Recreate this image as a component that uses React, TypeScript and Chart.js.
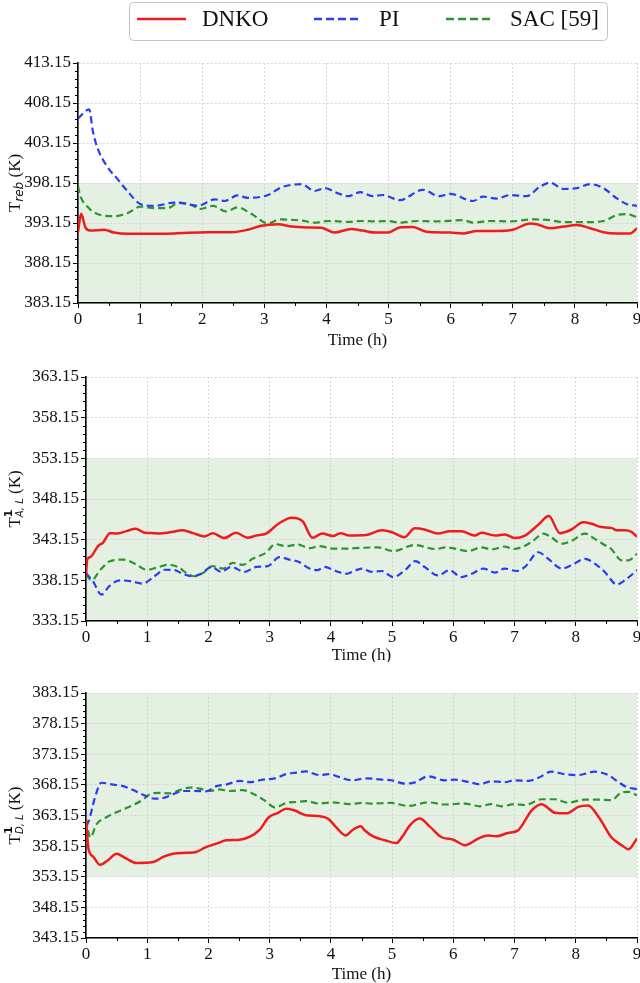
import React, { useEffect, useRef } from "react";
import { Chart, registerables } from "chart.js";

Chart.register(...registerables);

// ---------------- DATA ----------------
const SERIES_NAMES = ["DNKO", "PI", "SAC [59]"];
const SERIES_COLORS = ["#f01c1c", "#2a3df2", "#2c962c"];
const SERIES_DASHES = [[], [7, 4], [7, 4]];

const timeTicks = [0, 1, 2, 3, 4, 5, 6, 7, 8, 9];

// Panel 1: T_reb (K)
const rebTicks = [383.15, 388.15, 393.15, 398.15, 403.15, 408.15, 413.15];
const rebBand = [383.15, 398.15];
const rebDNKO: [number, number][] = [
  [0, 392.0], [0.05, 394.3], [0.12, 392.6], [0.2, 392.2], [0.42, 392.3], [0.58, 391.95], [0.8, 391.8],
  [1.12, 391.8], [1.55, 391.85], [2.09, 392.0], [2.47, 392.0], [2.73, 392.3], [2.95, 392.8], [3.22, 393.0],
  [3.44, 392.7], [3.7, 392.6], [3.92, 392.55], [4.13, 391.95], [4.4, 392.4], [4.58, 392.2], [4.8, 391.95],
  [4.99, 391.95], [5.18, 392.6], [5.39, 392.65], [5.61, 392.05], [5.99, 391.95], [6.2, 391.85], [6.42, 392.15],
  [6.74, 392.15], [7.0, 392.3], [7.28, 393.1], [7.39, 393.0], [7.6, 392.5], [7.82, 392.7], [8.03, 392.9],
  [8.25, 392.5], [8.46, 392.0], [8.68, 391.85], [8.89, 391.85], [9.0, 392.5],
];
const rebPI: [number, number][] = [
  [0, 406.2], [0.18, 407.35], [0.24, 404.6], [0.31, 402.6], [0.47, 400.2], [0.63, 398.7], [0.8, 397.1], [1.01, 395.5],
  [1.23, 395.3], [1.55, 395.7], [1.71, 395.6], [1.93, 395.3], [2.2, 396.1], [2.36, 395.9], [2.57, 396.6],
  [2.73, 396.3], [3.06, 396.65], [3.27, 397.6], [3.6, 398.0], [3.81, 397.15], [3.97, 397.5], [4.19, 396.85],
  [4.35, 396.5], [4.55, 397.0], [4.74, 396.5], [4.9, 396.65], [5.18, 396.0], [5.55, 397.3], [5.82, 396.5],
  [5.99, 396.8], [6.36, 395.9], [6.52, 396.45], [6.74, 396.2], [6.96, 396.65], [7.22, 396.5], [7.44, 397.7],
  [7.6, 398.2], [7.82, 397.4], [8.03, 397.5], [8.25, 398.0], [8.46, 397.5], [8.68, 396.2], [8.84, 395.5],
  [9.0, 395.3],
];
const rebSAC: [number, number][] = [
  [0, 397.8], [0.03, 396.7], [0.15, 395.2], [0.36, 394.15], [0.58, 394.0], [0.8, 394.4], [1.01, 395.2],
  [1.23, 395.0], [1.44, 395.0], [1.63, 395.7], [1.82, 395.4], [1.98, 394.9], [2.17, 395.3], [2.38, 394.6],
  [2.57, 395.1], [2.79, 394.3], [3.06, 393.1], [3.25, 393.6], [3.6, 393.45], [3.81, 393.2], [4.03, 393.4],
  [4.35, 393.3], [4.56, 393.4], [4.8, 393.35], [5.0, 393.4], [5.18, 393.2], [5.45, 393.4], [5.77, 393.35],
  [6.2, 393.5], [6.36, 393.2], [6.63, 393.4], [6.96, 393.35], [7.33, 393.6], [7.6, 393.5], [7.82, 393.25],
  [8.14, 393.25], [8.46, 393.4], [8.68, 394.15], [8.84, 394.25], [9.0, 393.85],
];

// Panel 2: T^1_{A,L} (K)
const aTicks = [333.15, 338.15, 343.15, 348.15, 353.15, 358.15, 363.15];
const aBand = [333.15, 353.15];
const aDNKO: [number, number][] = [
  [0, 338.8], [0.02, 340.7], [0.07, 341.0], [0.2, 342.4], [0.28, 342.8], [0.39, 343.95], [0.5, 343.9],
  [0.66, 344.2], [0.81, 344.5], [0.96, 344.0], [1.1, 343.95], [1.2, 343.9], [1.37, 344.05], [1.58, 344.3],
  [1.75, 343.95], [1.94, 343.55], [2.07, 343.95], [2.26, 343.35], [2.45, 344.0], [2.64, 343.4], [2.78, 343.65],
  [2.94, 343.9], [3.16, 345.2], [3.36, 345.85], [3.54, 345.4], [3.7, 343.4], [3.86, 343.9], [4.03, 343.6],
  [4.16, 343.95], [4.3, 343.65], [4.51, 343.7], [4.6, 343.75], [4.83, 344.3], [4.99, 344.1], [5.2, 343.45],
  [5.37, 344.55], [5.53, 344.4], [5.75, 343.9], [5.94, 344.2], [6.13, 344.2], [6.35, 343.65], [6.46, 344.0],
  [6.68, 343.65], [6.84, 343.8], [7.0, 343.35], [7.17, 343.65], [7.39, 345.0], [7.56, 346.05], [7.74, 343.95],
  [7.93, 344.4], [8.12, 345.3], [8.26, 345.1], [8.42, 344.7], [8.58, 344.6], [8.67, 344.3], [8.8, 344.3],
  [8.91, 344.1], [9.0, 343.5],
];
const aPI: [number, number][] = [
  [0, 339.05], [0.12, 337.95], [0.25, 336.4], [0.39, 337.5], [0.55, 338.15], [0.72, 338.05], [0.93, 337.75],
  [1.1, 338.55], [1.29, 339.45], [1.45, 339.4], [1.58, 338.95], [1.75, 338.65], [1.88, 338.95], [2.05, 339.8],
  [2.21, 339.2], [2.37, 339.8], [2.59, 339.2], [2.78, 339.8], [2.97, 339.9], [3.16, 341.0], [3.32, 340.7],
  [3.48, 340.4], [3.65, 339.6], [3.78, 339.4], [3.89, 339.8], [4.08, 339.3], [4.24, 338.95], [4.41, 339.4],
  [4.51, 339.6], [4.66, 339.2], [4.83, 339.3], [5.02, 338.55], [5.21, 339.4], [5.38, 340.5], [5.53, 339.8],
  [5.75, 338.75], [5.94, 339.4], [6.13, 338.55], [6.3, 338.95], [6.49, 339.6], [6.68, 339.1], [6.84, 339.6],
  [7.03, 339.3], [7.17, 339.8], [7.39, 341.6], [7.55, 340.8], [7.77, 339.6], [7.93, 340.0], [8.15, 340.8],
  [8.31, 340.2], [8.47, 339.2], [8.67, 337.65], [8.8, 338.15], [9.0, 339.4],
];
const aSAC: [number, number][] = [
  [0, 338.9], [0.09, 338.15], [0.23, 339.4], [0.39, 340.5], [0.61, 340.7], [0.82, 340.1], [0.99, 339.45],
  [1.15, 339.7], [1.34, 340.05], [1.5, 339.8], [1.64, 339.05], [1.77, 338.65], [1.91, 339.05], [2.07, 339.9],
  [2.24, 339.6], [2.4, 340.3], [2.56, 340.05], [2.72, 340.8], [2.94, 341.55], [3.09, 342.6], [3.27, 342.35],
  [3.46, 342.55], [3.65, 342.1], [3.81, 342.35], [4.03, 342.05], [4.24, 342.05], [4.51, 342.15], [4.77, 342.2],
  [5.02, 341.75], [5.37, 342.5], [5.7, 342.0], [5.89, 342.2], [6.24, 341.75], [6.46, 342.2], [6.63, 341.95],
  [6.84, 342.3], [6.98, 342.0], [7.17, 342.4], [7.31, 343.05], [7.47, 343.9], [7.6, 343.45], [7.77, 342.65],
  [7.93, 343.0], [8.15, 343.9], [8.31, 343.25], [8.47, 342.5], [8.58, 342.0], [8.75, 340.6], [8.86, 340.6],
  [9.0, 341.4],
];

// Panel 3: T^1_{D,L} (K)
const dTicks = [343.15, 348.15, 353.15, 358.15, 363.15, 368.15, 373.15, 378.15, 383.15];
const dBand = [353.15, 383.15];
const dDNKO: [number, number][] = [
  [0, 362.5], [0.04, 357.75], [0.12, 356.4], [0.23, 355.1], [0.36, 355.85], [0.5, 356.9], [0.66, 356.1],
  [0.82, 355.4], [1.1, 355.55], [1.26, 356.4], [1.42, 356.9], [1.64, 357.05], [1.8, 357.2], [1.96, 358.0],
  [2.13, 358.55], [2.29, 359.1], [2.51, 359.2], [2.67, 359.65], [2.83, 360.75], [2.99, 362.9], [3.13, 363.55],
  [3.27, 364.25], [3.4, 364.0], [3.59, 363.2], [3.81, 363.05], [3.95, 362.65], [4.08, 361.3], [4.24, 359.9],
  [4.35, 360.75], [4.49, 361.4], [4.55, 360.75], [4.69, 359.75], [4.88, 359.1], [5.07, 358.65], [5.18, 359.9],
  [5.29, 361.55], [5.45, 362.65], [5.62, 361.3], [5.81, 359.6], [6.0, 359.2], [6.19, 358.3], [6.41, 359.4],
  [6.57, 359.9], [6.7, 359.75], [6.89, 360.3], [7.06, 360.75], [7.28, 364.0], [7.44, 365.0], [7.66, 363.6],
  [7.85, 363.5], [8.04, 364.55], [8.2, 364.8], [8.39, 362.65], [8.58, 359.6], [8.75, 358.3], [8.86, 357.65],
  [9.0, 359.4],
];
const dPI: [number, number][] = [
  [0, 361.5], [0.04, 362.1], [0.15, 366.2], [0.25, 368.5], [0.44, 368.2], [0.61, 367.95], [0.77, 367.3],
  [0.93, 366.55], [1.12, 365.9], [1.26, 366.0], [1.42, 366.6], [1.58, 367.15], [1.75, 367.15], [1.96, 367.1],
  [2.13, 367.95], [2.29, 368.2], [2.51, 368.8], [2.67, 368.6], [2.89, 369.0], [3.08, 369.2], [3.27, 369.9],
  [3.43, 370.15], [3.59, 370.35], [3.81, 369.75], [3.97, 369.9], [4.13, 369.45], [4.35, 368.9], [4.51, 369.15],
  [4.6, 369.2], [4.83, 369.0], [4.99, 368.9], [5.21, 368.35], [5.37, 368.55], [5.59, 369.55], [5.86, 368.9],
  [6.02, 369.0], [6.24, 368.65], [6.43, 368.25], [6.62, 368.75], [6.84, 368.6], [7.0, 368.9], [7.22, 368.8],
  [7.39, 369.3], [7.6, 370.3], [7.82, 369.9], [8.04, 369.75], [8.31, 370.3], [8.53, 369.75], [8.69, 368.65],
  [8.83, 367.8], [9.0, 367.45],
];
const dSAC: [number, number][] = [
  [0, 362.5], [0.07, 359.55], [0.17, 361.7], [0.34, 362.9], [0.55, 363.9], [0.77, 364.85], [0.93, 365.75],
  [1.04, 366.6], [1.2, 366.85], [1.37, 366.75], [1.53, 367.3], [1.69, 367.7], [1.86, 367.55], [2.02, 367.15],
  [2.18, 367.4], [2.34, 367.15], [2.56, 367.3], [2.72, 366.75], [2.91, 365.65], [3.09, 364.45], [3.27, 365.2],
  [3.43, 365.35], [3.59, 365.5], [3.81, 365.1], [4.03, 365.3], [4.3, 365.0], [4.51, 365.2], [4.66, 365.1],
  [4.99, 365.2], [5.26, 364.7], [5.59, 365.3], [5.86, 364.95], [6.19, 365.1], [6.43, 364.65], [6.62, 365.0],
  [6.79, 364.65], [7.0, 365.0], [7.17, 364.85], [7.44, 365.8], [7.66, 365.8], [7.87, 365.25], [8.15, 365.75],
  [8.37, 365.75], [8.58, 365.65], [8.75, 366.9], [8.86, 367.0], [9.0, 366.45],
];

// ---------------- RENDERING ----------------
const SERIF = "'Liberation Serif', 'Times New Roman', serif";
const SANS = "'DejaVu Sans', sans-serif";

type LabelPart = { text: string; font: string; dy?: number; stackWith?: LabelPart };

const rebLabel: LabelPart[] = [
  { text: "T", font: `17px ${SERIF}` },
  { text: "reb", font: `italic 12px ${SANS}`, dy: 4 },
  { text: " (K)", font: `17px ${SERIF}` },
];
const aLabel: LabelPart[] = [
  { text: "T", font: `17px ${SERIF}` },
  { text: "1", font: `bold 11px ${SANS}`, dy: -7, stackWith: { text: "A, L", font: `italic 10px ${SANS}`, dy: 4 } },
  { text: " (K)", font: `17px ${SERIF}` },
];
const dLabel: LabelPart[] = [
  { text: "T", font: `17px ${SERIF}` },
  { text: "1", font: `bold 11px ${SANS}`, dy: -7, stackWith: { text: "D, L", font: `italic 10px ${SANS}`, dy: 4 } },
  { text: " (K)", font: `17px ${SERIF}` },
];

type PanelSpec = {
  top: number;
  height: number;
  axisLeft: number;
  padTop: number;
  xHeight: number;
  titleShift: number;
  yTicks: number[];
  band: number[];
  series: [number, number][][];
  label: LabelPart[];
  legend: boolean;
};

function Panel({ spec }: { spec: PanelSpec }) {
  const ref = useRef<HTMLCanvasElement | null>(null);
  useEffect(() => {
    if (!ref.current) return;
    const yMin = spec.yTicks[0];
    const yMax = spec.yTicks[spec.yTicks.length - 1];

    const bandPlugin = {
      id: "band",
      beforeDraw(chart: any) {
        const { ctx, chartArea, scales } = chart;
        const y1 = scales.y.getPixelForValue(spec.band[1]);
        const y0 = scales.y.getPixelForValue(spec.band[0]);
        ctx.save();
        ctx.fillStyle = "#e4f0e2";
        ctx.fillRect(chartArea.left, y1, chartArea.right - chartArea.left, y0 - y1);
        ctx.restore();
      },
    };

    const decorPlugin = {
      id: "decor",
      afterDraw(chart: any) {
        const { ctx, chartArea, scales } = chart;
        ctx.save();
        // minor ticks
        ctx.strokeStyle = "#000";
        ctx.lineWidth = 1;
        ctx.beginPath();
        for (let v = yMin; v <= yMax + 1e-6; v += 1) {
          const k = Math.round(v - yMin);
          if (k % 5 === 0) continue;
          const py = Math.round(scales.y.getPixelForValue(v)) + 0.5;
          ctx.moveTo(chartArea.left - 3, py);
          ctx.lineTo(chartArea.left, py);
        }
        for (let t = 0.5; t < 9; t += 1) {
          const px = Math.round(scales.x.getPixelForValue(t)) + 0.5;
          ctx.moveTo(px, chartArea.bottom);
          ctx.lineTo(px, chartArea.bottom + 3);
        }
        ctx.stroke();

        // y-axis title with sub/superscripts
        const parts = spec.label;
        let total = 0;
        const widths: number[] = [];
        parts.forEach((p) => {
          ctx.font = p.font;
          let w = ctx.measureText(p.text).width;
          if (p.stackWith) {
            ctx.font = p.stackWith.font;
            w = Math.max(w, ctx.measureText(p.stackWith.text).width);
          }
          widths.push(w);
          total += w;
        });
        const cy = (chartArea.top + chartArea.bottom) / 2;
        ctx.translate(16, cy);
        ctx.rotate(-Math.PI / 2);
        ctx.fillStyle = "#111";
        ctx.textBaseline = "middle";
        ctx.textAlign = "left";
        let x = -total / 2;
        parts.forEach((p, i) => {
          ctx.font = p.font;
          ctx.fillText(p.text, x, p.dy || 0);
          if (p.stackWith) {
            ctx.font = p.stackWith.font;
            ctx.fillText(p.stackWith.text, x, p.stackWith.dy || 0);
          }
          x += widths[i];
        });
        ctx.restore();

        if (spec.legend) {
          ctx.save();
          const bx = 129.5, by = 2.5, bw = 478, bh = 38, r = 4;
          ctx.beginPath();
          ctx.moveTo(bx + r, by);
          ctx.lineTo(bx + bw - r, by);
          ctx.quadraticCurveTo(bx + bw, by, bx + bw, by + r);
          ctx.lineTo(bx + bw, by + bh - r);
          ctx.quadraticCurveTo(bx + bw, by + bh, bx + bw - r, by + bh);
          ctx.lineTo(bx + r, by + bh);
          ctx.quadraticCurveTo(bx, by + bh, bx, by + bh - r);
          ctx.lineTo(bx, by + r);
          ctx.quadraticCurveTo(bx, by, bx + r, by);
          ctx.closePath();
          ctx.fillStyle = "#fff";
          ctx.fill();
          ctx.strokeStyle = "#c4c4c4";
          ctx.lineWidth = 1;
          ctx.stroke();
          const lineX = [[137, 186], [314, 359], [446, 490]];
          const textX = [202, 379, 510];
          const ly = 19;
          SERIES_NAMES.forEach((name, i) => {
            ctx.beginPath();
            ctx.setLineDash(i === 0 ? [] : [8, 4]);
            ctx.strokeStyle = SERIES_COLORS[i];
            ctx.lineWidth = 2.6;
            ctx.moveTo(lineX[i][0], ly);
            ctx.lineTo(lineX[i][1], ly);
            ctx.stroke();
            ctx.setLineDash([]);
            ctx.fillStyle = "#111";
            ctx.font = `23px ${SERIF}`;
            ctx.textBaseline = "middle";
            ctx.textAlign = "left";
            ctx.fillText(name, textX[i], ly + 1);
          });
          ctx.restore();
        }
      },
    };

    const chart = new Chart(ref.current, {
      type: "line",
      data: {
        datasets: spec.series.map((s, i) => ({
          label: SERIES_NAMES[i],
          data: s.map(([x, y]) => ({ x, y })),
          borderColor: SERIES_COLORS[i],
          borderDash: SERIES_DASHES[i],
          borderWidth: i === 0 ? 2.5 : 2.2,
          pointRadius: 0,
          fill: false,
          cubicInterpolationMode: "monotone" as const,
        })),
      },
      options: {
        responsive: false,
        animation: false,
        events: [],
        layout: { padding: { top: spec.padTop, right: 13, left: 0, bottom: 0 } },
        plugins: { legend: { display: false }, tooltip: { enabled: false } },
        scales: {
          x: {
            type: "linear",
            min: 0,
            max: 9,
            afterBuildTicks: (s: any) => {
              s.ticks = timeTicks.map((v) => ({ value: v }));
            },
            afterFit: (s: any) => {
              s.height = spec.xHeight;
            },
            ticks: {
              color: "#111",
              font: { family: SERIF, size: 17 },
              padding: 1,
              maxRotation: 0,
            },
            grid: {
              color: "#d4d4d4",
              lineWidth: 1,
              tickLength: 5,
              tickColor: "#000",
              tickWidth: 1,
              tickBorderDash: [],
            },
            border: { display: true, color: "#000", width: 1.6, dash: [2, 2] },
            title: {
              display: true,
              text: "Time (h)",
              color: "#111",
              font: { family: SERIF, size: 17 },
              padding: { top: 0, bottom: -spec.titleShift },
            },
          },
          y: {
            type: "linear",
            min: yMin,
            max: yMax,
            afterBuildTicks: (s: any) => {
              s.ticks = spec.yTicks.map((v) => ({ value: v }));
            },
            afterFit: (s: any) => {
              s.width = spec.axisLeft;
            },
            ticks: {
              color: "#111",
              font: { family: SERIF, size: 17 },
              padding: 2,
              callback: (v: any) => Number(v).toFixed(2),
            },
            grid: {
              color: "#d4d4d4",
              lineWidth: 1,
              tickLength: 5,
              tickColor: "#000",
              tickWidth: 1,
              tickBorderDash: [],
            },
            border: { display: true, color: "#000", width: 1.6, dash: [2, 2] },
          },
        },
      },
      plugins: [bandPlugin, decorPlugin],
    } as any);
    return () => chart.destroy();
  }, [spec]);

  return (
    <canvas
      ref={ref}
      width={650}
      height={spec.height}
      style={{ position: "absolute", left: 0, top: spec.top, width: 650, height: spec.height }}
    />
  );
}

const PANELS: PanelSpec[] = [
  {
    top: 0, height: 351, axisLeft: 78, padTop: 63, xHeight: 48, titleShift: 0,
    yTicks: rebTicks, band: rebBand, series: [rebDNKO, rebPI, rebSAC], label: rebLabel, legend: true,
  },
  {
    top: 345, height: 317, axisLeft: 86, padTop: 32, xHeight: 41, titleShift: 4,
    yTicks: aTicks, band: aBand, series: [aDNKO, aPI, aSAC], label: aLabel, legend: false,
  },
  {
    top: 662, height: 321, axisLeft: 86, padTop: 31, xHeight: 45, titleShift: 2,
    yTicks: dTicks, band: dBand, series: [dDNKO, dPI, dSAC], label: dLabel, legend: false,
  },
];

export default function App() {
  return (
    <div
      style={{
        position: "absolute", left: 0, top: 0, width: 640, height: 983,
        overflow: "hidden", background: "#fff",
      }}
    >
      {PANELS.map((p, i) => (
        <Panel key={i} spec={p} />
      ))}
    </div>
  );
}
